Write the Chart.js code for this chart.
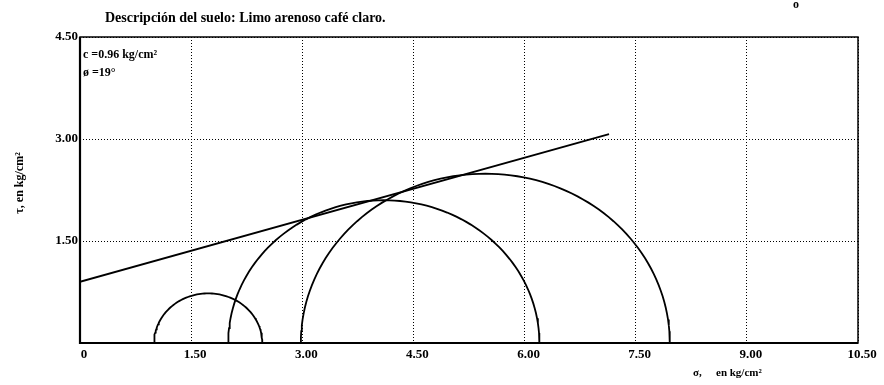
<!DOCTYPE html>
<html>
<head>
<meta charset="utf-8">
<script src="https://cdn.jsdelivr.net/npm/chart.js@4.4.1/dist/chart.umd.min.js"></script>
<style>
  html, body { margin: 0; padding: 0; background: #fff; }
  #wrap { width: 884px; height: 385px; position: relative; }
</style>
</head>
<body>
<div id="wrap"><canvas id="c" width="884" height="385"></canvas></div>
<script>
// ---- Data ----
const titleText = 'Descripción del suelo: Limo arenoso café claro.';
const xTicks = [0, 1.5, 3.0, 4.5, 6.0, 7.5, 9.0, 10.5];
const yTicks = [0, 1.5, 3.0, 4.5];
// Mohr circles: minor and major principal stresses (kg/cm²)
const sigma3 = [1.00, 2.00, 2.98];
const sigma1 = [2.46, 6.20, 7.96];
// Failure envelope end points (σ, τ)
const envelopeSigma = [0.00, 7.14];
const envelopeTau = [0.90, 3.07];
const annotation = ['c =0.96 kg/cm²', 'ø =19°'];

const serif = '"Liberation Serif", "DejaVu Serif", serif';

function circlePoints(s3, s1) {
  const c = (s1 + s3) / 2, r = (s1 - s3) / 2;
  const pts = [];
  for (let i = 0; i <= 90; i++) {
    const a = Math.PI - Math.PI * i / 90;
    pts.push({ x: c + r * Math.cos(a), y: r * Math.sin(a) });
  }
  return pts;
}

const datasets = sigma3.map((s3, i) => ({
  data: circlePoints(s3, sigma1[i]),
  borderColor: '#000', borderWidth: 1.8, showLine: true, pointRadius: 0, tension: 0
}));
datasets.push({
  data: envelopeSigma.map((s, i) => ({ x: s, y: envelopeTau[i] })),
  borderColor: '#000', borderWidth: 1.8, showLine: true, pointRadius: 0
});

const frame = {
  id: 'frame',
  afterDatasetsDraw(chart) {
    const { ctx, chartArea: a } = chart;
    ctx.save();
    ctx.strokeStyle = '#000';
    ctx.lineWidth = 1.5;
    ctx.strokeRect(a.left, a.top, a.right - a.left, a.bottom - a.top);
    ctx.lineWidth = 2.2;
    ctx.beginPath();
    ctx.moveTo(a.left, a.top); ctx.lineTo(a.left, a.bottom); ctx.lineTo(a.right, a.bottom);
    ctx.stroke();
    ctx.restore();
  },
  afterDraw(chart) {
    const { ctx } = chart;
    ctx.save();
    ctx.fillStyle = '#000';
    ctx.textBaseline = 'middle';
    ctx.textAlign = 'left';
    ctx.font = 'bold 14px ' + serif;
    ctx.fillText(titleText, 105, 18);
    ctx.font = 'bold 12px ' + serif;
    ctx.fillText(annotation[0], 83, 55);
    ctx.fillText(annotation[1], 83, 73);
    ctx.font = 'bold 11px ' + serif;
    ctx.fillText('σ,', 693, 373);
    ctx.fillText('en kg/cm²', 716, 373);
    ctx.font = 'bold 12px ' + serif;
    ctx.fillText('o', 793, 5);
    ctx.translate(20, 183);
    ctx.rotate(-Math.PI / 2);
    ctx.textAlign = 'center';
    ctx.font = 'bold 12px ' + serif;
    ctx.fillText('τ, en kg/cm²', 0, 0);
    ctx.restore();
  }
};

new Chart(document.getElementById('c'), {
  type: 'scatter',
  data: { datasets },
  options: {
    responsive: false,
    animation: false,
    layout: { padding: { top: 37, right: 26, left: 0, bottom: 0 } },
    plugins: { legend: { display: false }, tooltip: { enabled: false }, title: { display: false } },
    scales: {
      x: {
        type: 'linear', min: 0, max: 10.5,
        afterBuildTicks(scale) { scale.ticks = xTicks.map(v => ({ value: v })); },
        afterFit(scale) { scale.height = 42; },
        ticks: {
          color: '#000', padding: 4, labelOffset: 4,
          font: { family: serif, size: 13, weight: 'bold' },
          callback: v => v === 0 ? '0' : Number(v).toFixed(2)
        },
        grid: { color: '#000', lineWidth: 1, drawTicks: false },
        border: { display: false, dash: [1, 2] }
      },
      y: {
        type: 'linear', min: 0, max: 4.5,
        afterBuildTicks(scale) { scale.ticks = yTicks.map(v => ({ value: v })); },
        afterFit(scale) { scale.width = 80; },
        ticks: {
          color: '#000', padding: 2,
          font: { family: serif, size: 13, weight: 'bold' },
          callback: v => v === 0 ? '' : Number(v).toFixed(2)
        },
        grid: { color: '#000', lineWidth: 1, drawTicks: false },
        border: { display: false, dash: [1, 2] }
      }
    }
  },
  plugins: [frame]
});
</script>
</body>
</html>
